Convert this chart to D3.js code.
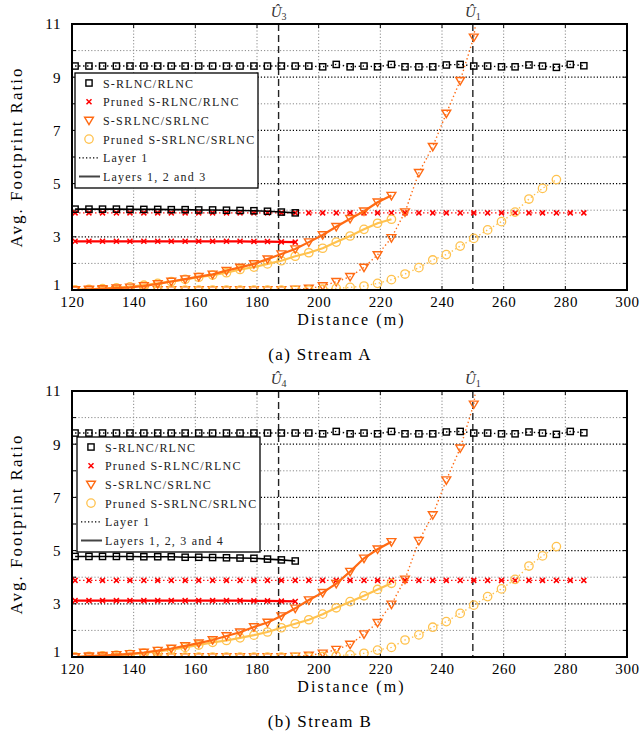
<!DOCTYPE html>
<html>
<head>
<meta charset="utf-8">
<script src="https://cdn.jsdelivr.net/npm/d3@7"></script>
<style>
body { margin: 0; background: #ffffff; }
svg { display: block; font-family: "Liberation Serif", "DejaVu Serif", serif; }
</style>
</head>
<body>
<svg id="chart" width="640" height="738"></svg>
<script>
// distances (m) shared by every series
var distance = [121, 125.5, 129.9, 134.4, 138.8, 143.3, 147.8, 152.2, 156.7, 161.1,
    165.6, 170.1, 174.5, 179, 183.4, 187.9, 192.4, 196.8, 201.3, 205.7,
    210.2, 214.7, 219.1, 223.6, 228, 232.5, 237, 241.4, 245.9, 250.3,
    254.8, 259.3, 263.7, 268.2, 272.6, 277.1, 281.6, 286];

var xTicks = [120, 140, 160, 180, 200, 220, 240, 260, 280, 300];
var yTicks = [1, 3, 5, 7, 9, 11];
var yGrid = [2, 3, 4, 5, 6, 7, 8, 9, 10];
var xGrid = [140, 160, 180, 200, 220, 240, 260, 280];

var legendLabels = ["S-RLNC/RLNC", "Pruned S-RLNC/RLNC", "S-SRLNC/SRLNC", "Pruned S-SRLNC/SRLNC", "Layer 1"];

// ---- Stream A ----
var aRlncL1 = [9.42, 9.42, 9.42, 9.42, 9.42, 9.42, 9.42, 9.42, 9.42, 9.42,
    9.42, 9.42, 9.42, 9.42, 9.42, 9.42, 9.42, 9.42, 9.39, 9.48,
    9.39, 9.42, 9.39, 9.48, 9.39, 9.39, 9.39, 9.46, 9.48, 9.42,
    9.42, 9.39, 9.39, 9.46, 9.42, 9.37, 9.48, 9.43];
var aRlncAll = [4.04, 4.04, 4.04, 4.04, 4.03, 4.03, 4.03, 4.02, 4.02, 4.01,
    4.01, 4.0, 3.99, 3.98, 3.96, 3.93, 3.9];
var aPrunedRlncL1 = [3.9, 3.9, 3.9, 3.9, 3.9, 3.9, 3.9, 3.9, 3.9, 3.9,
    3.9, 3.9, 3.9, 3.9, 3.9, 3.9, 3.9, 3.9, 3.9, 3.9,
    3.9, 3.9, 3.9, 3.9, 3.9, 3.9, 3.9, 3.9, 3.9, 3.9,
    3.9, 3.9, 3.9, 3.9, 3.9, 3.9, 3.9, 3.9];
var aPrunedRlncAll = [2.83, 2.83, 2.83, 2.83, 2.83, 2.83, 2.83, 2.83, 2.83, 2.83,
    2.83, 2.83, 2.83, 2.82, 2.82, 2.81, 2.8];
var aSrlncL1 = [1, 1, 1, 1, 1, 1, 1, 1, 1, 1,
    1, 1, 1, 1, 1, 1, 1.02, 1.06, 1.15, 1.31,
    1.5, 1.85, 2.32, 2.96, 3.93, 5.41, 6.39, 7.64, 8.87, 10.5, 14.5];
var aSrlncAll = [1.0, 1.02, 1.04, 1.07, 1.1, 1.15, 1.23, 1.32, 1.41, 1.5,
    1.59, 1.73, 1.85, 1.98, 2.16, 2.35, 2.54, 2.8, 3.07, 3.38,
    3.68, 3.96, 4.3, 4.55];
var aPrunedSrlncL1 = [1, 1, 1, 1, 1, 1, 1, 1, 1, 1,
    1, 1, 1, 1, 1, 1, 1, 1, 1.03, 1.06,
    1.1, 1.15, 1.25, 1.39, 1.6, 1.84, 2.13, 2.33, 2.65, 2.94,
    3.26, 3.57, 3.93, 4.42, 4.82, 5.15];
var aPrunedSrlncAll = [1.0, 1.02, 1.05, 1.08, 1.12, 1.18, 1.25, 1.32, 1.4, 1.48,
    1.56, 1.65, 1.77, 1.86, 1.98, 2.1, 2.27, 2.4, 2.57, 2.8,
    3.03, 3.28, 3.51, 3.66];

// ---- Stream B ----
var bRlncL1 = [9.42, 9.42, 9.42, 9.42, 9.42, 9.42, 9.42, 9.42, 9.42, 9.42,
    9.42, 9.42, 9.42, 9.42, 9.42, 9.42, 9.42, 9.42, 9.39, 9.48,
    9.39, 9.42, 9.39, 9.48, 9.39, 9.39, 9.39, 9.46, 9.48, 9.42,
    9.42, 9.39, 9.39, 9.46, 9.42, 9.37, 9.48, 9.43];
var bRlncAll = [4.78, 4.78, 4.78, 4.78, 4.78, 4.77, 4.77, 4.77, 4.75, 4.75,
    4.74, 4.73, 4.72, 4.71, 4.68, 4.65, 4.61];
var bPrunedRlncL1 = [3.88, 3.88, 3.88, 3.88, 3.88, 3.88, 3.88, 3.88, 3.88, 3.88,
    3.88, 3.88, 3.88, 3.88, 3.88, 3.88, 3.88, 3.88, 3.88, 3.88,
    3.88, 3.88, 3.88, 3.88, 3.88, 3.88, 3.88, 3.88, 3.88, 3.88,
    3.88, 3.88, 3.88, 3.88, 3.88, 3.88, 3.88, 3.88];
var bPrunedRlncAll = [3.12, 3.12, 3.12, 3.12, 3.12, 3.12, 3.12, 3.12, 3.12, 3.12,
    3.12, 3.12, 3.12, 3.11, 3.11, 3.1, 3.09];
var bSrlncL1 = [1, 1, 1, 1, 1, 1, 1, 1, 1, 1,
    1, 1, 1, 1, 1, 1, 1.02, 1.06, 1.14, 1.28,
    1.47, 1.86, 2.29, 2.98, 3.92, 5.37, 6.34, 7.65, 8.85, 10.5, 14.5];
var bSrlncAll = [1.0, 1.03, 1.05, 1.08, 1.12, 1.17, 1.24, 1.32, 1.42, 1.52,
    1.64, 1.79, 1.93, 2.13, 2.3, 2.54, 2.83, 3.14, 3.42, 3.76,
    4.21, 4.71, 5.05, 5.33];
var bPrunedSrlncL1 = [1, 1, 1, 1, 1, 1, 1, 1, 1, 1,
    1, 1, 1, 1, 1, 1, 1, 1, 1.02, 1.04,
    1.08, 1.14, 1.26, 1.36, 1.64, 1.83, 2.12, 2.33, 2.64, 2.95,
    3.27, 3.56, 3.92, 4.42, 4.8, 5.15];
var bPrunedSrlncAll = [1.0, 1.02, 1.04, 1.07, 1.1, 1.15, 1.21, 1.28, 1.36, 1.45,
    1.55, 1.62, 1.72, 1.82, 1.94, 2.1, 2.25, 2.4, 2.61, 2.85,
    3.08, 3.3, 3.54, 3.77];

var BLACK = "#000000";
var RED = "#ff0000";
var ORANGE = "#ff6a13";
var YELLOW = "#ffc24e";

var panels = [
    {
        top: 24, caption: "(a) Stream A", lastLabel: "Layers 1, 2 and 3",
        legendX: 75, legendY: 73,
        marks: [{sub: "3", d: 187}, {sub: "1", d: 250}],
        series: [
            {v: aRlncL1, color: BLACK, marker: "square", dotted: true},
            {v: aPrunedRlncL1, color: RED, marker: "cross", dotted: true},
            {v: aSrlncL1, color: ORANGE, marker: "tri", dotted: true},
            {v: aPrunedSrlncL1, color: YELLOW, marker: "circle", dotted: true},
            {v: aRlncAll, color: BLACK, marker: "square", dotted: false},
            {v: aPrunedRlncAll, color: RED, marker: "cross", dotted: false},
            {v: aPrunedSrlncAll, color: YELLOW, marker: "circle", dotted: false},
            {v: aSrlncAll, color: ORANGE, marker: "tri", dotted: false}
        ]
    },
    {
        top: 391, caption: "(b) Stream B", lastLabel: "Layers 1, 2, 3 and 4",
        legendX: 77, legendY: 437,
        marks: [{sub: "4", d: 187}, {sub: "1", d: 250}],
        series: [
            {v: bRlncL1, color: BLACK, marker: "square", dotted: true},
            {v: bPrunedRlncL1, color: RED, marker: "cross", dotted: true},
            {v: bSrlncL1, color: ORANGE, marker: "tri", dotted: true},
            {v: bPrunedSrlncL1, color: YELLOW, marker: "circle", dotted: true},
            {v: bRlncAll, color: BLACK, marker: "square", dotted: false},
            {v: bPrunedRlncAll, color: RED, marker: "cross", dotted: false},
            {v: bPrunedSrlncAll, color: YELLOW, marker: "circle", dotted: false},
            {v: bSrlncAll, color: ORANGE, marker: "tri", dotted: false}
        ]
    }
];

var svg = d3.select("#chart");
var left = 72, right = 627, plotH = 266;

function drawMarker(g, type, color, x, y) {
    if (type === "square") {
        g.append("rect").attr("x", x - 3.1).attr("y", y - 3.1)
            .attr("width", 6.2).attr("height", 6.2)
            .attr("fill", "none").attr("stroke", color).attr("stroke-width", 1.4);
    } else if (type === "cross") {
        g.append("path")
            .attr("d", "M" + (x - 2.5) + "," + (y - 2.5) + "L" + (x + 2.5) + "," + (y + 2.5) +
                "M" + (x - 2.5) + "," + (y + 2.5) + "L" + (x + 2.5) + "," + (y - 2.5))
            .attr("stroke", color).attr("stroke-width", 1.5);
    } else if (type === "tri") {
        g.append("path")
            .attr("d", "M" + (x - 4.4) + "," + (y - 3.2) + "L" + (x + 4.4) + "," + (y - 3.2) +
                "L" + x + "," + (y + 4.2) + "Z")
            .attr("fill", "none").attr("stroke", color).attr("stroke-width", 1.4);
    } else {
        g.append("circle").attr("cx", x).attr("cy", y).attr("r", 4.2)
            .attr("fill", "none").attr("stroke", color).attr("stroke-width", 1.3);
    }
}

function drawPanel(p, idx) {
    var x = d3.scaleLinear().domain([120, 300]).range([left, right]);
    var y = d3.scaleLinear().domain([1, 11]).range([p.top + plotH, p.top]);
    var g = svg.append("g");

    var clipId = "clip" + idx;
    svg.append("clipPath").attr("id", clipId).append("rect")
        .attr("x", left).attr("y", p.top).attr("width", right - left).attr("height", plotH);

    // grid
    g.selectAll(".vgrid").data(xGrid).enter().append("line")
        .attr("x1", function(d) { return x(d); }).attr("x2", function(d) { return x(d); })
        .attr("y1", p.top).attr("y2", p.top + plotH)
        .attr("stroke", "#8a8a8a").attr("stroke-width", 1).attr("stroke-dasharray", "1.2,2");
    g.selectAll(".hgrid").data(yGrid).enter().append("line")
        .attr("x1", left).attr("x2", right)
        .attr("y1", function(d) { return y(d); }).attr("y2", function(d) { return y(d); })
        .attr("stroke", function(d) { return d % 2 === 1 ? "#000" : "#8a8a8a"; })
        .attr("stroke-width", function(d) { return d % 2 === 1 ? 1.3 : 1; })
        .attr("stroke-dasharray", "1.2,2");

    // inward ticks
    var tickG = g.append("g").attr("stroke", "#000").attr("stroke-width", 1);
    xGrid.forEach(function(d) {
        tickG.append("line").attr("x1", x(d)).attr("x2", x(d)).attr("y1", p.top).attr("y2", p.top + 4);
        tickG.append("line").attr("x1", x(d)).attr("x2", x(d)).attr("y1", p.top + plotH).attr("y2", p.top + plotH - 4);
    });
    yGrid.forEach(function(d) {
        tickG.append("line").attr("x1", left).attr("x2", left + 4).attr("y1", y(d)).attr("y2", y(d));
        tickG.append("line").attr("x1", right).attr("x2", right - 4).attr("y1", y(d)).attr("y2", y(d));
    });

    // threshold lines
    p.marks.forEach(function(m) {
        g.append("line").attr("x1", x(m.d)).attr("x2", x(m.d))
            .attr("y1", p.top).attr("y2", p.top + plotH)
            .attr("stroke", "#222").attr("stroke-width", 1.4).attr("stroke-dasharray", "7,4");
        var t = g.append("text").attr("x", x(m.d)).attr("y", p.top - 7)
            .attr("text-anchor", "middle").attr("font-size", 15).attr("fill", "#333");
        t.append("tspan").attr("font-style", "italic").text("U\u0302");
        t.append("tspan").attr("font-size", 10).attr("dy", 3).text(m.sub);
    });

    // series
    var lineG = g.append("g").attr("clip-path", "url(#" + clipId + ")");
    p.series.forEach(function(s) {
        var pts = s.v.map(function(v, i) { return [distance[i], v]; });
        var line = d3.line().x(function(d) { return x(d[0]); }).y(function(d) { return y(d[1]); });
        lineG.append("path").attr("d", line(pts))
            .attr("fill", "none").attr("stroke", s.color)
            .attr("stroke-width", s.dotted ? 1.4 : (s.color === BLACK ? 1.6 : 2.2))
            .attr("stroke-dasharray", s.dotted ? "1.4,2.6" : null);
        var mg = lineG.append("g");
        pts.forEach(function(d) {
            if (d[1] <= 11) drawMarker(mg, s.marker, s.color, x(d[0]), y(d[1]));
        });
    });

    // frame
    g.append("rect").attr("x", left).attr("y", p.top).attr("width", right - left).attr("height", plotH)
        .attr("fill", "none").attr("stroke", "#000").attr("stroke-width", 2);

    // axes labels
    var xAxis = g.append("g").attr("transform", "translate(0," + (p.top + plotH) + ")")
        .call(d3.axisBottom(x).tickValues(xTicks).tickSize(0).tickPadding(6));
    xAxis.select(".domain").remove();
    xAxis.selectAll("text").attr("font-family", "Liberation Serif, serif")
        .attr("font-size", 15).attr("letter-spacing", 0.6).attr("fill", "#000");

    var yAxis = g.append("g").attr("transform", "translate(" + (left - 11) + ",0)")
        .call(d3.axisLeft(y).tickValues(yTicks).tickSize(0).tickPadding(0));
    yAxis.select(".domain").remove();
    yAxis.selectAll("text").attr("font-family", "Liberation Serif, serif")
        .attr("font-size", 15).attr("letter-spacing", 0.6).attr("fill", "#000");
    // lift the bottom "1" a little so it clears the "120" label
    yAxis.selectAll(".tick").filter(function(d) { return d === 1; })
        .select("text").attr("dy", "-0.05em");

    g.append("text").attr("x", (left + right) / 2 + 2).attr("y", p.top + plotH + 35)
        .attr("text-anchor", "middle").attr("font-size", 16).attr("letter-spacing", 2.1)
        .text("Distance (m)");
    g.append("text")
        .attr("transform", "translate(22," + (p.top + plotH / 2) + ") rotate(-90)")
        .attr("text-anchor", "middle").attr("font-size", 17).attr("letter-spacing", 2)
        .text("Avg. Footprint Ratio");
    g.append("text").attr("x", 320).attr("y", p.top + plotH + 70)
        .attr("text-anchor", "middle").attr("font-size", 17).attr("letter-spacing", 1.4)
        .text(p.caption);

    // legend
    var lg = g.append("g").attr("transform", "translate(" + p.legendX + "," + p.legendY + ")");
    lg.append("rect").attr("width", 183).attr("height", 115)
        .attr("fill", "#fff").attr("stroke", "#000").attr("stroke-width", 1.3);
    var rowH = 18.7;
    var entries = [
        {label: legendLabels[0], marker: "square", color: BLACK},
        {label: legendLabels[1], marker: "cross", color: RED},
        {label: legendLabels[2], marker: "tri", color: ORANGE},
        {label: legendLabels[3], marker: "circle", color: YELLOW},
        {label: legendLabels[4], line: "dotted"},
        {label: p.lastLabel, line: "solid"}
    ];
    entries.forEach(function(e, i) {
        var cy = 10 + i * rowH;
        if (e.marker) {
            drawMarker(lg, e.marker, e.color, 14, cy);
        } else {
            lg.append("line").attr("x1", 4).attr("x2", 25).attr("y1", cy).attr("y2", cy)
                .attr("stroke", e.line === "dotted" ? "#000" : "#444")
                .attr("stroke-width", e.line === "dotted" ? 1.2 : 2)
                .attr("stroke-dasharray", e.line === "dotted" ? "1.3,2.2" : null);
        }
        lg.append("text").attr("x", 28).attr("y", cy + 4.5)
            .attr("font-size", 12).attr("letter-spacing", 1.2).attr("fill", "#222")
            .text(e.label);
    });
}

panels.forEach(drawPanel);
</script>
</body>
</html>
